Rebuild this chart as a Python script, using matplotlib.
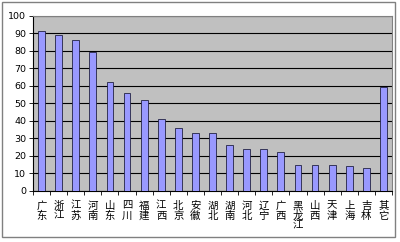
import numpy as np
import matplotlib
matplotlib.use('Agg')
import matplotlib.pyplot as plt
from matplotlib.patches import Rectangle

plt.rcParams['font.family'] = ['Noto Sans CJK SC', 'DejaVu Sans']

provinces = ['广东', '浙江', '江苏', '河南', '山东', '四川', '福建', '江西', '北京', '安徽', '湖北',
             '湖南', '河北', '辽宁', '广西', '黑龙江', '山西', '天津', '上海', '吉林', '其它']
values = [91, 89, 86, 79, 62, 56, 52, 41, 36, 33, 33, 26, 24, 24, 22, 15, 15, 15, 14, 13, 59]
yticks = [0, 10, 20, 30, 40, 50, 60, 70, 80, 90, 100]

fig = plt.figure(figsize=(4, 2.42), dpi=100)
# outer chart frame
fig.patches.append(Rectangle((0.006, 0.02), 0.981, 0.97, transform=fig.transFigure,
                             facecolor='white', edgecolor='#808080', lw=1.0, zorder=-1))
ax = fig.add_axes([33/400, 1-191/242, (392-33)/400, (191-15.5)/242])
ax.set_facecolor('#c0c0c0')

x = np.arange(len(values))
ax.bar(x, values, width=0.4, color='#9999ff', edgecolor='#222244', lw=0.6, zorder=3)

ax.set_xlim(-0.5, len(values) - 0.5)
ax.set_ylim(0, 100)
ax.set_yticks(yticks)
ax.set_yticklabels([str(v) for v in yticks], fontsize=6.8, family='DejaVu Sans')
ax.yaxis.grid(True, color='black', lw=0.8, zorder=1)

ax.set_xticks(x)
ax.set_xticklabels(['\n'.join(p) for p in provinces], fontsize=7.5, linespacing=1.0, va='top')
ax.tick_params(axis='x', length=0, pad=7)
ax.set_xticks(np.arange(-0.5, len(values)), minor=True)
ax.tick_params(axis='x', which='minor', length=3, width=0.6, direction='out')
ax.tick_params(axis='y', length=3, width=0.6, pad=2)

for s in ['top', 'right']:
    ax.spines[s].set_color('#808080')
    ax.spines[s].set_linewidth(0.8)
for s in ['left', 'bottom']:
    ax.spines[s].set_color('black')
    ax.spines[s].set_linewidth(0.8)

fig.savefig('out.png', dpi=100)
